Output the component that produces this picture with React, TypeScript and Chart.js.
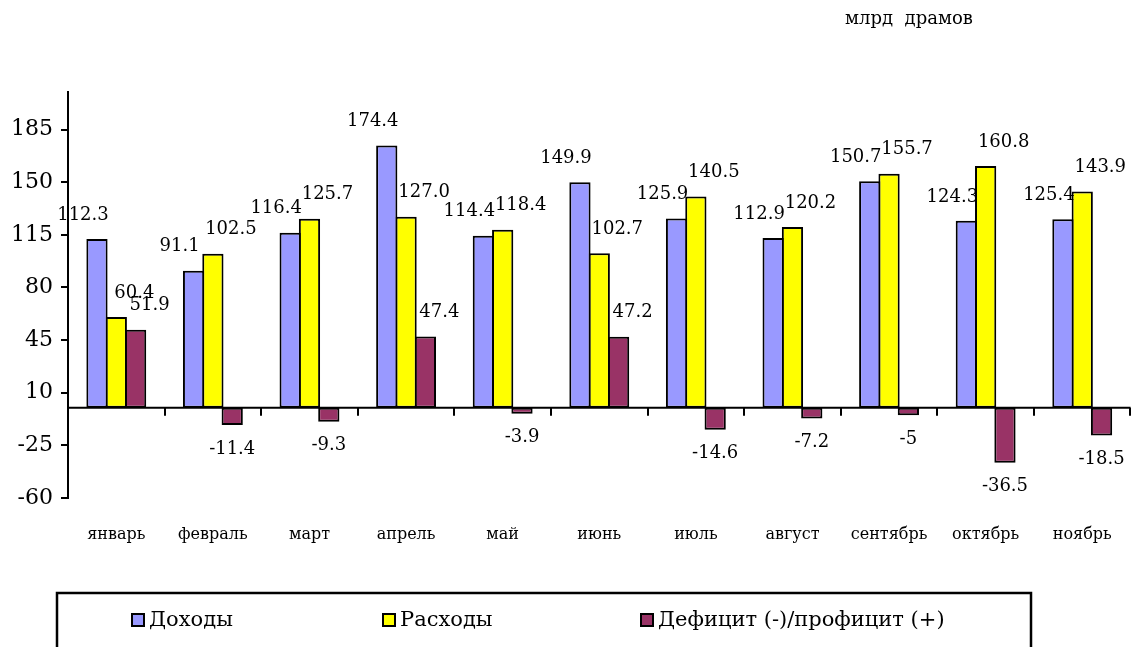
import React, { useEffect, useRef } from "react";
import { Chart, registerables } from "chart.js";

Chart.register(...registerables);

const months = ["январь", "февраль", "март", "апрель", "май", "июнь", "июль", "август", "сентябрь", "октябрь", "ноябрь"];
const incomes = [112.3, 91.1, 116.4, 174.4, 114.4, 149.9, 125.9, 112.9, 150.7, 124.3, 125.4];
const expenses = [60.4, 102.5, 125.7, 127.0, 118.4, 102.7, 140.5, 120.2, 155.7, 160.8, 143.9];
const balance = [51.9, -11.4, -9.3, 47.4, -3.9, 47.2, -14.6, -7.2, -5, -36.5, -18.5];
const yTicks = [-60, -25, 10, 45, 80, 115, 150, 185];
const seriesNames = ["Доходы", "Расходы", "Дефицит (-)/профицит (+)"];
const unitLabel = "млрд  драмов";

const FONT = '"DejaVu Serif", "Liberation Serif", serif';
const COLORS = ["#9999FF", "#FFFF00", "#993366"];
// style: horizontal nudge of value labels per series (positive / negative values)
const LABEL_DX_POS = [-14, 18, 14];
const LABEL_DX_NEG = [0, 0, 0];
const LABEL_DY = 24;
const LEGEND_X = [132, 383, 641];
const LEGEND_Y = 620;

const formatters = [
  (v: number) => v.toFixed(1),
  (v: number) => v.toFixed(1),
  (v: number) => String(v),
];

const decor = {
  id: "decor",
  afterDatasetsDraw(chart: any) {
    const { ctx, chartArea, scales } = chart;
    const y = scales.y;
    ctx.save();
    const y0 = y.getPixelForValue(0);
    ctx.strokeStyle = "#000";
    ctx.lineWidth = 2;
    ctx.beginPath();
    ctx.moveTo(chartArea.left, y0);
    ctx.lineTo(chartArea.right, y0);
    ctx.stroke();
    const n = chart.data.labels.length;
    const w = (chartArea.right - chartArea.left) / n;
    ctx.beginPath();
    for (let k = 1; k <= n; k++) {
      const px = Math.round(chartArea.left + k * w) - (k === n ? 1 : 0);
      ctx.moveTo(px, y0);
      ctx.lineTo(px, y0 + 8);
    }
    ctx.stroke();

    ctx.fillStyle = "#000";
    ctx.font = `18px ${FONT}`;
    ctx.textAlign = "center";
    ctx.textBaseline = "middle";
    chart.data.datasets.forEach((ds: any, di: number) => {
      const meta = chart.getDatasetMeta(di);
      meta.data.forEach((bar: any, i: number) => {
        const v = ds.data[i];
        const p = bar.getProps(["x", "y"], true);
        const txt = formatters[di](v);
        if (v >= 0) {
          ctx.fillText(txt, p.x + LABEL_DX_POS[di], p.y - LABEL_DY);
        } else {
          ctx.fillText(txt, p.x + LABEL_DX_NEG[di], p.y + LABEL_DY);
        }
      });
    });
    ctx.restore();
  },
  afterDraw(chart: any) {
    const { ctx } = chart;
    ctx.save();
    ctx.fillStyle = "#000";
    ctx.font = `18px ${FONT}`;
    ctx.textAlign = "center";
    ctx.textBaseline = "middle";
    ctx.fillText(unitLabel, 909, 19);

    // legend frame
    ctx.strokeStyle = "#000";
    ctx.lineWidth = 2.5;
    ctx.strokeRect(57, 593, 974, 120);
    ctx.font = `21px ${FONT}`;
    ctx.textAlign = "left";
    chart.data.datasets.forEach((ds: any, di: number) => {
      const x = LEGEND_X[di];
      ctx.fillStyle = ds.backgroundColor;
      ctx.fillRect(x, LEGEND_Y - 6, 12, 12);
      ctx.lineWidth = 2;
      ctx.strokeStyle = "#000";
      ctx.strokeRect(x, LEGEND_Y - 6, 12, 12);
      ctx.fillStyle = "#000";
      ctx.fillText(ds.label, x + 17, LEGEND_Y + 1);
    });
    ctx.restore();
  },
};

export default function App() {
  const ref = useRef<HTMLCanvasElement>(null);
  useEffect(() => {
    document.body.style.margin = "0";
    const chart = new Chart(ref.current as HTMLCanvasElement, {
      type: "bar",
      data: {
        labels: months,
        datasets: [incomes, expenses, balance].map((d, i) => ({
          label: seriesNames[i],
          data: d,
          backgroundColor: COLORS[i],
          borderColor: "#000",
          borderWidth: 2,
          borderSkipped: false,
          barPercentage: 1.1,
          categoryPercentage: 0.6,
        })),
      },
      options: {
        animation: false,
        responsive: true,
        maintainAspectRatio: false,
        layout: { padding: { top: 92, right: 6, left: 0, bottom: 0 } },
        plugins: { legend: { display: false }, tooltip: { enabled: false } },
        scales: {
          x: {
            grid: { display: false, drawTicks: false },
            border: { display: false },
            ticks: { color: "#000", font: { family: FONT, size: 16 }, padding: 27, maxRotation: 0, autoSkip: false },
            afterFit: (s: any) => {
              s.height = 149;
            },
          },
          y: {
            min: -60,
            max: 210,
            afterBuildTicks: (s: any) => {
              s.ticks = yTicks.map((v) => ({ value: v }));
            },
            afterFit: (s: any) => {
              s.width = 68;
            },
            border: { display: true, color: "#000", width: 2 },
            grid: { display: true, drawOnChartArea: false, drawTicks: true, tickLength: 7, color: "#000", lineWidth: 2 },
            ticks: { color: "#000", font: { family: FONT, size: 22 }, padding: 8 },
          },
        },
      },
      plugins: [decor],
    });
    return () => chart.destroy();
  }, []);
  return (
    <div style={{ position: "fixed", left: 0, top: 0, width: 1139, height: 647 }}>
      <canvas ref={ref} />
    </div>
  );
}
